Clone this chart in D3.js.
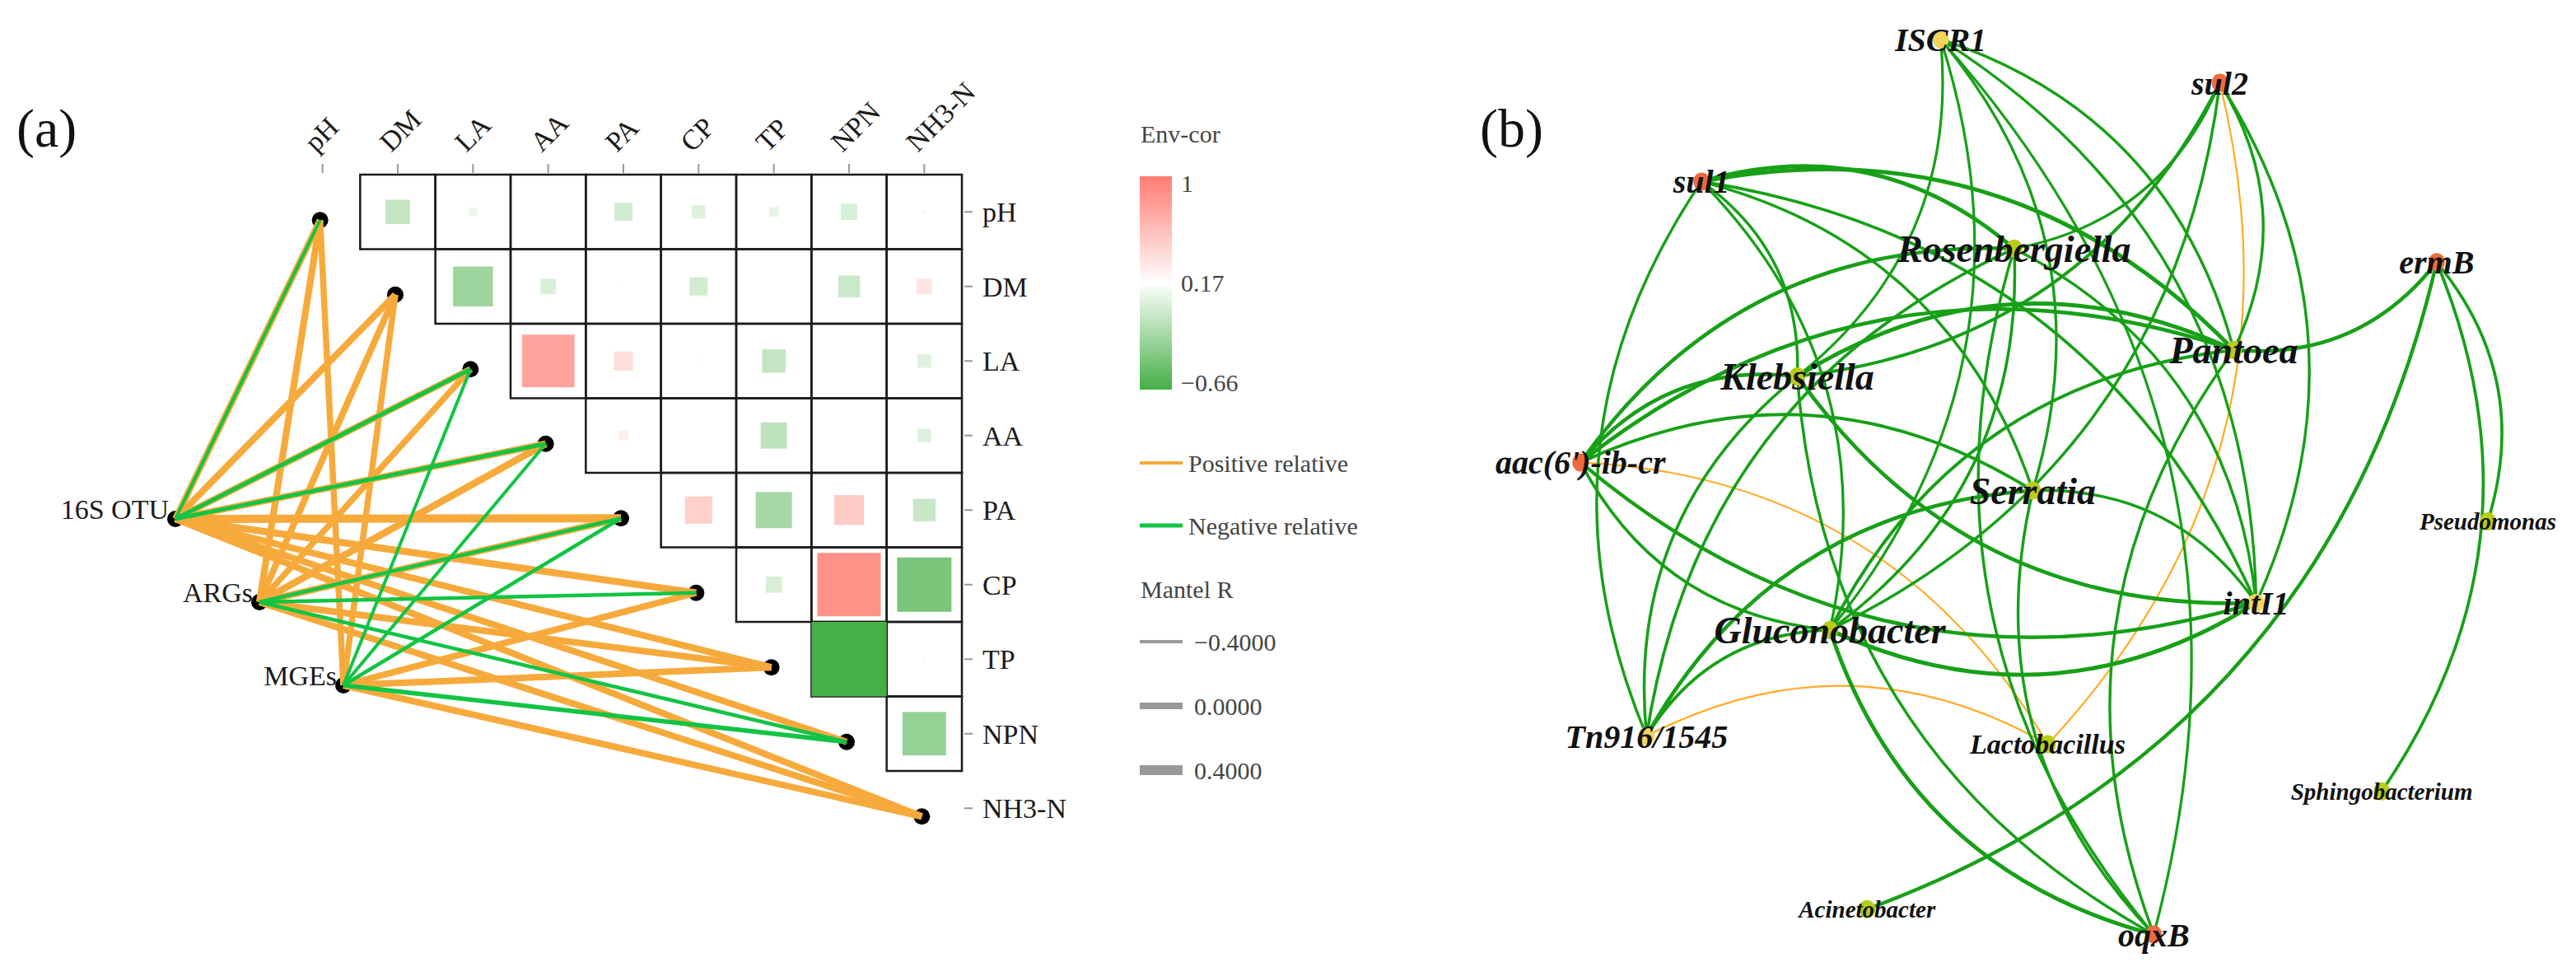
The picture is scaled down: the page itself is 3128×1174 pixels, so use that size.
<!DOCTYPE html>
<html>
<head>
<meta charset="utf-8">
<script src="https://cdn.jsdelivr.net/npm/d3@7"></script>
<style>
body { margin: 0; background: #fff; }
svg { display: block; }
</style>
</head>
<body>
<svg id="fig"></svg>
<script>
var width = 3128, height = 1174;

// ---------- panel (a) data ----------
var envVars = ["pH", "DM", "LA", "AA", "PA", "CP", "TP", "NPN", "NH3-N"];
// upper triangle, row i against the variables after it
var envCor = [
  [-0.10, 0.08, 0.15, -0.03, 0.02, 0.06, -0.01, 0.13],
  [-0.27, 0.00, 0.14, -0.03, 0.16, -0.07, 0.34],
  [0.75, 0.38, 0.21, -0.09, 0.19, 0.02],
  [0.28, 0.19, -0.12, 0.19, 0.02],
  [0.47, -0.23, 0.50, -0.08],
  [-0.01, 0.87, -0.43],
  [-0.66, 0.13],
  [-0.31]
];
var corTicks = [1, 0.17, -0.66];
var corTickLabels = ["1", "0.17", "\u22120.66"];

var specNames = ["16S OTU", "ARGs", "MGEs"];
// [spec, env, mantel r, relation]
var mantelLinks = [
  ["16S OTU", "pH", 0.0, "pos"], ["16S OTU", "pH", -0.4, "neg"],
  ["16S OTU", "DM", 0.02, "pos"],
  ["16S OTU", "LA", 0.0, "pos"], ["16S OTU", "LA", -0.3, "neg"],
  ["16S OTU", "AA", 0.0, "pos"], ["16S OTU", "AA", -0.3, "neg"],
  ["16S OTU", "PA", 0.2, "pos"],
  ["16S OTU", "CP", 0.05, "pos"],
  ["16S OTU", "TP", 0.0, "pos"],
  ["16S OTU", "NPN", 0.0, "pos"],
  ["16S OTU", "NH3-N", 0.0, "pos"],
  ["ARGs", "pH", 0.02, "pos"],
  ["ARGs", "DM", 0.0, "pos"],
  ["ARGs", "LA", -0.05, "pos"],
  ["ARGs", "AA", 0.05, "pos"],
  ["ARGs", "PA", 0.0, "pos"], ["ARGs", "PA", -0.35, "neg"],
  ["ARGs", "CP", -0.35, "neg"],
  ["ARGs", "TP", 0.0, "pos"],
  ["ARGs", "NPN", -0.35, "neg"],
  ["ARGs", "NH3-N", 0.0, "pos"],
  ["MGEs", "pH", -0.05, "pos"],
  ["MGEs", "DM", -0.05, "pos"],
  ["MGEs", "LA", -0.4, "neg"],
  ["MGEs", "AA", -0.4, "neg"],
  ["MGEs", "PA", -0.35, "neg"],
  ["MGEs", "CP", 0.0, "pos"],
  ["MGEs", "TP", 0.0, "pos"],
  ["MGEs", "NPN", -0.25, "neg"],
  ["MGEs", "NH3-N", 0.0, "pos"]
];
var mantelTicks = [-0.4, 0, 0.4];
var mantelTickLabels = ["\u22120.4000", "0.0000", "0.4000"];

// ---------- panel (b) data ----------
var netNodes = ["ISCR1", "sul2", "sul1", "Rosenbergiella", "ermB", "Pantoea", "Klebsiella",
  "aac(6')-ib-cr", "Serratia", "Pseudomonas", "intI1", "Gluconobacter", "Tn916/1545",
  "Lactobacillus", "Sphingobacterium", "Acinetobacter", "oqxB"];
var netGroup = ["MGE", "ARG", "ARG", "Genus", "ARG", "Genus", "Genus",
  "ARG", "Genus", "Genus", "MGE", "Genus", "MGE",
  "Genus", "Genus", "Genus", "ARG"];
// layout coordinates (0-100)
var netX = [40.4, 70.4, 14.7, 48.3, 93.7, 71.9, 25.0, 1.7, 50.3, 99.2, 74.3, 28.5, 8.8, 51.9, 87.8, 32.5, 63.3];
var netY = [0.7, 5.5, 16.4, 23.8, 25.3, 35.0, 37.9, 47.4, 50.5, 53.9, 62.9, 65.9, 77.6, 78.5, 83.7, 96.7, 99.5];
// [source, target, r]
var netEdges = [
  ["Lactobacillus", "Tn916/1545", -0.66],
  ["Lactobacillus", "aac(6')-ib-cr", -0.64],
  ["Lactobacillus", "sul2", -0.65],
  ["Pseudomonas", "ermB", 0.78],
  ["Sphingobacterium", "ermB", 0.78],
  ["Acinetobacter", "ermB", 0.84],
  ["Pantoea", "ermB", 0.86],
  ["Pantoea", "aac(6')-ib-cr", 0.87],
  ["Pantoea", "ISCR1", 0.76],
  ["Serratia", "ISCR1", 0.75],
  ["Klebsiella", "ISCR1", 0.74],
  ["Gluconobacter", "ISCR1", 0.74],
  ["intI1", "ISCR1", 0.75],
  ["oqxB", "ISCR1", 0.74],
  ["Pantoea", "sul2", 0.76],
  ["intI1", "sul2", 0.76],
  ["Klebsiella", "sul2", 0.8],
  ["Gluconobacter", "sul2", 0.76],
  ["Rosenbergiella", "sul2", 0.75],
  ["Pantoea", "sul1", 0.9],
  ["Rosenbergiella", "sul1", 0.88],
  ["Klebsiella", "sul1", 0.76],
  ["Gluconobacter", "sul1", 0.75],
  ["intI1", "sul1", 0.78],
  ["Serratia", "sul1", 0.76],
  ["Rosenbergiella", "aac(6')-ib-cr", 0.85],
  ["Klebsiella", "aac(6')-ib-cr", 0.85],
  ["Serratia", "aac(6')-ib-cr", 0.8],
  ["aac(6')-ib-cr", "intI1", 0.85],
  ["aac(6')-ib-cr", "Gluconobacter", 0.78],
  ["sul1", "Tn916/1545", 0.76],
  ["Klebsiella", "Tn916/1545", 0.77],
  ["Rosenbergiella", "Tn916/1545", 0.78],
  ["Gluconobacter", "Tn916/1545", 0.8],
  ["Serratia", "Tn916/1545", 0.86],
  ["Gluconobacter", "intI1", 0.9],
  ["Gluconobacter", "oqxB", 0.88],
  ["Pantoea", "Gluconobacter", 0.8],
  ["Klebsiella", "intI1", 0.86],
  ["Pantoea", "Klebsiella", 0.88],
  ["Klebsiella", "oqxB", 0.76],
  ["Serratia", "oqxB", 0.76],
  ["Rosenbergiella", "oqxB", 0.76],
  ["intI1", "Rosenbergiella", 0.76],
  ["Gluconobacter", "Rosenbergiella", 0.77],
  ["intI1", "Serratia", 0.77],
  ["Pantoea", "oqxB", 0.76]
];

var posColor = "#F7AA3C", negColor = "#12C443";
var serif = "'Liberation Serif', 'Times New Roman', serif";

var svg = d3.select("#fig").attr("width", width).attr("height", height)
  .attr("font-family", serif);
svg.append("rect").attr("width", width).attr("height", height).attr("fill", "#fff");

svg.append("text").attr("x", 20).attr("y", 178).attr("font-size", 66).attr("fill", "#111").text("(a)");
svg.append("text").attr("x", 1797).attr("y", 178).attr("font-size", 66).attr("fill", "#111").text("(b)");

// ================= panel (a) =================
var x = d3.scaleBand().domain(envVars).range([346, 1168]);
var y = d3.scaleBand().domain(envVars).range([212, 1026.5]);
var bw = x.bandwidth(), bh = y.bandwidth();

var color = d3.scaleLinear().domain([-0.66, 0.17, 1]).range(["#46AF46", "#ffffff", "#FF7C72"]);
var side = d3.scaleLinear().domain([-0.66, 0.17, 1]).range([bw, 0, bw]);

var cells = [];
envCor.forEach(function(row, i) {
  row.forEach(function(r, k) {
    cells.push({row: envVars[i], col: envVars[i + 1 + k], r: r});
  });
});

var ga = svg.append("g");

ga.selectAll(".cell").data(cells).enter().append("rect")
  .attr("class", "cell")
  .attr("x", function(d) { return x(d.col); })
  .attr("y", function(d) { return y(d.row); })
  .attr("width", bw).attr("height", bh)
  .attr("fill", "none").attr("stroke", "#1a1a1a").attr("stroke-width", 2.5);

ga.selectAll(".sq").data(cells).enter().append("rect")
  .attr("class", "sq")
  .attr("x", function(d) { return x(d.col) + (bw - side(d.r)) / 2; })
  .attr("y", function(d) { return y(d.row) + (bh - Math.min(bh, side(d.r))) / 2; })
  .attr("width", function(d) { return side(d.r); })
  .attr("height", function(d) { return Math.min(bh, side(d.r)); })
  .attr("fill", function(d) { return color(d.r); });

// top axis
var topAx = ga.selectAll(".topax").data(envVars).enter().append("g").attr("class", "topax");
topAx.append("line")
  .attr("x1", function(d) { return x(d) + bw / 2; })
  .attr("x2", function(d) { return x(d) + bw / 2; })
  .attr("y1", 199).attr("y2", 210)
  .attr("stroke", "#999").attr("stroke-width", 2);
topAx.append("text")
  .attr("transform", function(d) { return "translate(" + (x(d) + bw / 2 - 8) + ",186) rotate(-45)"; })
  .attr("font-size", 34).attr("fill", "#1a1a1a")
  .text(function(d) { return d; });

// right axis
var rightAx = ga.selectAll(".rightax").data(envVars).enter().append("g").attr("class", "rightax");
rightAx.append("line")
  .attr("x1", 1171).attr("x2", 1181)
  .attr("y1", function(d) { return y(d) + bh / 2; })
  .attr("y2", function(d) { return y(d) + bh / 2; })
  .attr("stroke", "#999").attr("stroke-width", 2);
rightAx.append("text")
  .attr("x", 1193)
  .attr("y", function(d) { return y(d) + bh / 2; })
  .attr("dy", "0.35em")
  .attr("font-size", 34).attr("fill", "#1a1a1a")
  .text(function(d) { return d; });

// mantel links
var specX = d3.scalePoint().domain(specNames).range([213, 417]);
var specY = d3.scalePoint().domain(specNames).range([630, 832]);
function envX(v) { return x(v) + bw / 2 - 3; }
function envY(v) { return y(v) + bh / 2 + 10; }
var lw = d3.scaleLinear().domain([-0.4, 0.4]).range([4, 12]);

ga.selectAll(".envdot").data(envVars).enter().append("circle")
  .attr("cx", envX).attr("cy", envY).attr("r", 10).attr("fill", "#000");
ga.selectAll(".specdot").data(specNames).enter().append("circle")
  .attr("cx", specX).attr("cy", specY).attr("r", 10).attr("fill", "#000");

var ordered = mantelLinks.filter(function(d) { return d[3] === "pos"; })
  .concat(mantelLinks.filter(function(d) { return d[3] === "neg"; }));
ga.selectAll(".link").data(ordered).enter().append("line")
  .attr("x1", function(d) { return specX(d[0]); })
  .attr("y1", function(d) { return specY(d[0]); })
  .attr("x2", function(d) { return envX(d[1]); })
  .attr("y2", function(d) { return envY(d[1]); })
  .attr("stroke", function(d) { return d[3] === "pos" ? posColor : negColor; })
  .attr("stroke-width", function(d) { return lw(d[2]); })
  .attr("stroke-linecap", "butt");

ga.selectAll(".speclab").data(specNames).enter().append("text")
  .attr("x", function(d) { return specX(d) - 8; })
  .attr("y", function(d) { return specY(d); })
  .attr("text-anchor", "end")
  .attr("font-size", 34).attr("fill", "#1a1a1a")
  .text(function(d) { return d; });

// legend
var lg = svg.append("g");
lg.append("text").attr("x", 1385).attr("y", 173).attr("font-size", 30).attr("fill", "#444").text("Env-cor");
var grad = svg.append("defs").append("linearGradient").attr("id", "cgrad")
  .attr("x1", 0).attr("y1", 0).attr("x2", 0).attr("y2", 1);
d3.range(0, 1.0001, 0.05).forEach(function(t) {
  grad.append("stop").attr("offset", t).attr("stop-color", color(1 - t * 1.66));
});
lg.append("rect").attr("x", 1384).attr("y", 214).attr("width", 39).attr("height", 259).attr("fill", "url(#cgrad)");
var cy = d3.scaleLinear().domain([-0.66, 1]).range([464, 222]);
lg.selectAll(".ctick").data(corTicks).enter().append("text")
  .attr("x", 1434).attr("y", function(d) { return cy(d); }).attr("dy", "0.35em")
  .attr("font-size", 30).attr("fill", "#444")
  .text(function(d, i) { return corTickLabels[i]; });

var relItems = [["Positive relative", posColor, 4, 562], ["Negative relative", negColor, 5, 638]];
relItems.forEach(function(it) {
  lg.append("line").attr("x1", 1384).attr("x2", 1436).attr("y1", it[3]).attr("y2", it[3])
    .attr("stroke", it[1]).attr("stroke-width", it[2]);
  lg.append("text").attr("x", 1443).attr("y", it[3]).attr("dy", "0.35em")
    .attr("font-size", 30).attr("fill", "#444").text(it[0]);
});
lg.append("text").attr("x", 1385).attr("y", 715).attr("dy", "0.35em").attr("font-size", 30).attr("fill", "#444").text("Mantel R");
var my = d3.scalePoint().domain(mantelTicks).range([779, 935]);
mantelTicks.forEach(function(t, i) {
  lg.append("line").attr("x1", 1384).attr("x2", 1436).attr("y1", my(t)).attr("y2", my(t))
    .attr("stroke", "#999").attr("stroke-width", lw(t));
  lg.append("text").attr("x", 1450).attr("y", my(t)).attr("dy", "0.35em")
    .attr("font-size", 30).attr("fill", "#444").text(mantelTickLabels[i]);
});

// ================= panel (b) =================
var nx = d3.scaleLinear().domain([0, 100]).range([1900, 3030]);
var ny = d3.scaleLinear().domain([0, 100]).range([40, 1140]);
var nodes = netNodes.map(function(n, i) {
  return {name: n, group: netGroup[i], x: nx(netX[i]), y: ny(netY[i]), deg: 0};
});
var byName = {};
nodes.forEach(function(n) { byName[n.name] = n; });
netEdges.forEach(function(e) { byName[e[0]].deg++; byName[e[1]].deg++; });

var ew = d3.scaleLinear().domain([0.6, 1]).range([1.6, 6.2]);
// arcs bend to the right of the source -> target direction
function arcPath(e) {
  var s = byName[e[0]], t = byName[e[1]];
  var dx = t.x - s.x, dy = t.y - s.y;
  var k = 0.27;
  var qx = (s.x + t.x) / 2 - dy * k, qy = (s.y + t.y) / 2 + dx * k;
  return "M" + s.x + "," + s.y + "Q" + qx + "," + qy + " " + t.x + "," + t.y;
}
var gb = svg.append("g");
gb.selectAll(".edge").data(netEdges).enter().append("path")
  .attr("d", arcPath)
  .attr("fill", "none")
  .attr("stroke", function(d) { return d[2] > 0 ? "#17A017" : "#FFAA22"; })
  .attr("stroke-width", function(d) { return ew(Math.abs(d[2])); });

var nodeColor = {ARG: "#EE6A3F", MGE: "#F4D35E", Genus: "#B8CC1A"};
gb.selectAll(".node").data(nodes).enter().append("ellipse")
  .attr("cx", function(d) { return d.x; }).attr("cy", function(d) { return d.y; })
  .attr("rx", 10).attr("ry", 11)
  .attr("fill", function(d) { return nodeColor[d.group]; });

var genusSize = d3.scaleLinear().domain([1, 3, 6]).range([29, 34, 46]).clamp(true);
gb.selectAll(".nlab").data(nodes).enter().append("text")
  .attr("x", function(d) { return d.x; }).attr("y", function(d) { return d.y; })
  .attr("dy", "0.35em").attr("text-anchor", "middle")
  .attr("font-style", "italic").attr("font-weight", "bold")
  .attr("font-size", function(d) { return d.group === "Genus" ? genusSize(d.deg) : 40; })
  .attr("fill", "#111")
  .text(function(d) { return d.name; });
</script>
</body>
</html>
